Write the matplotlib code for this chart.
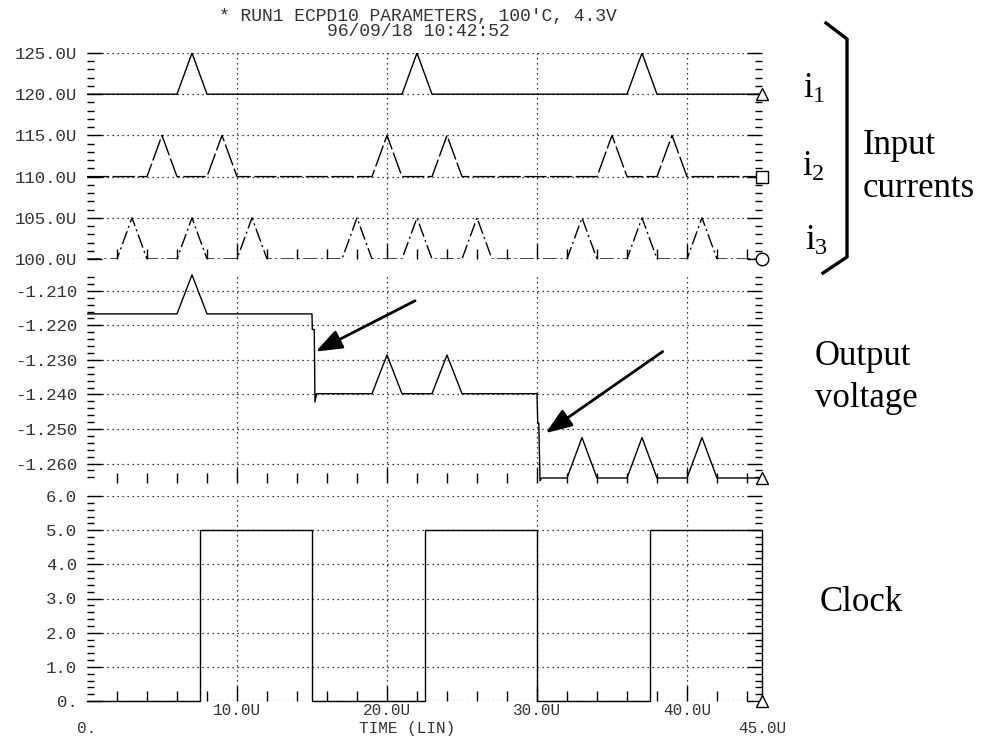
import matplotlib.pyplot as plt
from matplotlib.ticker import MultipleLocator, FixedLocator
from matplotlib.lines import Line2D

# HSPICE transient: three input currents, output voltage, clock (time in us)
t_i1 = [0, 6, 7, 8, 21, 22, 23, 36, 37, 38, 45]
i1 = [120, 120, 125, 120, 120, 125, 120, 120, 125, 120, 120]

t_i2 = [0, 4, 5, 6, 8, 9, 10, 19, 20, 21, 23, 24, 25, 34, 35, 36, 38, 39, 40, 45]
i2 = [110, 110, 115, 110, 110, 115, 110, 110, 115, 110,
      110, 115, 110, 110, 115, 110, 110, 115, 110, 110]

t_i3 = [0, 2, 3, 4, 6, 7, 8, 10, 11, 12, 17, 18, 19, 21, 22, 23, 25, 26, 27,
        32, 33, 34, 36, 37, 38, 40, 41, 42, 45]
i3 = [100, 100, 105, 100, 100, 105, 100, 100, 105, 100, 100, 105, 100, 100, 105,
      100, 100, 105, 100, 100, 105, 100, 100, 105, 100, 100, 105, 100, 100]

t_out = [0, 6, 7, 8, 15.0, 15.02, 15.15, 15.2, 15.3, 19, 20, 21, 23, 24, 25,
         30.0, 30.05, 30.12, 30.2, 30.3, 32, 33, 34, 36, 37, 38, 40, 41, 42, 45]
vout = [-1.2167, -1.2167, -1.2054, -1.2167, -1.2167, -1.2212, -1.2212, -1.2422, -1.2398,
        -1.2398, -1.2286, -1.2398, -1.2398, -1.2286, -1.2398,
        -1.2398, -1.2483, -1.2483, -1.2650, -1.2642, -1.2642, -1.2525, -1.2642,
        -1.2642, -1.2525, -1.2642, -1.2642, -1.2525, -1.2642, -1.2642]

t_clk = [0, 7.5, 7.5, 15, 15, 22.5, 22.5, 30, 30, 37.5, 37.5, 45, 45]
clk = [0, 0, 5, 5, 0, 0, 5, 5, 0, 0, 5, 5, 0]

cur_ticks = [100, 105, 110, 115, 120, 125]
cur_labels = ["100.0U", "105.0U", "110.0U", "115.0U", "120.0U", "125.0U"]
vout_ticks = [-1.26, -1.25, -1.24, -1.23, -1.22, -1.21]
vout_labels = ["-1.260", "-1.250", "-1.240", "-1.230", "-1.220", "-1.210"]
clk_ticks = [0, 1, 2, 3, 4, 5, 6]
clk_labels = ["0.", "1.0", "2.0", "3.0", "4.0", "5.0", "6.0"]
time_ticks = [10, 20, 30, 40]
time_labels = ["10.0U", "20.0U", "30.0U", "40.0U"]

W, H = 984, 738
MONO = "Liberation Mono"
SERIF = "Liberation Serif"
LBL = "#333333"
YSIZE = 12.5
XSIZE = 11.5


def box(top, bottom):
    # pixel rows of the reference -> figure fraction
    return [87 / W, 1 - bottom / H, 675 / W, (bottom - top) / H]


def style(ax, ylim, yticks, ylabels, yminor):
    ax.set_xlim(0, 45)
    ax.set_ylim(*ylim)
    for s in ax.spines.values():
        s.set_visible(False)
    ax.set_yticks(yticks, ylabels)
    ax.yaxis.set_minor_locator(MultipleLocator(yminor))
    ax.set_xticks(time_ticks, [])
    ax.xaxis.set_minor_locator(FixedLocator(range(2, 45, 2)))
    ax.tick_params(axis="y", which="both", direction="in", left=True, right=True,
                   color="k", width=1, pad=7)
    ax.tick_params(axis="y", which="major", length=11)
    ax.tick_params(axis="y", which="minor", length=5)
    ax.tick_params(axis="x", which="both", direction="in", bottom=True, top=False,
                   color="k", width=1, pad=1.5)
    ax.tick_params(axis="x", which="major", length=11)
    ax.tick_params(axis="x", which="minor", length=7)
    ax.grid(True, which="major", ls=(0, (1, 3)), color="k", lw=0.9)
    for lab in ax.get_yticklabels():
        lab.set_fontfamily(MONO)
        lab.set_fontsize(YSIZE)
        lab.set_color(LBL)


fig = plt.figure(figsize=(W / 100, H / 100), dpi=100)
ax1 = fig.add_axes(box(53, 259))
ax2 = fig.add_axes(box(273.5, 482.5))
ax3 = fig.add_axes(box(496, 701))

lw = 1.0
ax1.plot(t_i1, i1, color="k", lw=lw)
ax1.plot(t_i2, i2, color="k", lw=lw, ls=(0, (16, 2.5)))
ax1.plot(t_i3, i3, color="k", lw=lw, ls=(0, (10, 2.5, 1.5, 2.5)))
mk = dict(color="k", mfc="white", mec="k", mew=1, ms=9, clip_on=False, zorder=5)
ax1.plot(t_i1[-1], i1[-1], marker="^", **mk)
ax1.plot(t_i2[-1], i2[-1], marker="s", **mk)
ax1.plot(t_i3[-1], i3[-1], marker="o", **mk)
style(ax1, (100, 125), cur_ticks, cur_labels, 1)

ax2.plot(t_out, vout, color="k", lw=lw)
ax2.plot(t_out[-1], vout[-1], marker="^", **mk)
style(ax2, (-1.2655, -1.2050), vout_ticks, vout_labels, 0.002)
arrow = dict(arrowstyle="-|>,head_length=0.8,head_width=0.3", color="k", lw=2,
             mutation_scale=20, shrinkA=0, shrinkB=0)
ax2.annotate("", xy=(15.25, -1.2276), xytext=(21.87, -1.2129),
             arrowprops=arrow, annotation_clip=False)
ax2.annotate("", xy=(30.58, -1.2512), xytext=(38.38, -1.2276),
             arrowprops=arrow, annotation_clip=False)

ax3.plot(t_clk, clk, color="k", lw=lw, clip_on=False)
ax3.plot(t_clk[-1], clk[-1], marker="^", **mk)
style(ax3, (0, 6), clk_ticks, clk_labels, 0.2)
ax3.set_xticks(time_ticks, time_labels, fontfamily=MONO, fontsize=XSIZE, color=LBL)
sec = ax3.secondary_xaxis("bottom")
sec.set_xticks([0, 45], ["0.", "45.0U"], fontfamily=MONO, fontsize=XSIZE, color=LBL)
sec.tick_params(length=0, pad=14.5)
sec.spines["bottom"].set_visible(False)
ax3.set_xlabel("TIME (LIN)", fontfamily=MONO, fontsize=XSIZE, color=LBL, va="top")
ax3.xaxis.set_label_coords(0.474, -0.098)

fig.text(418 / W, 1 - 24 / H, "* RUN1 ECPD10 PARAMETERS, 100'C, 4.3V\n96/09/18 10:42:52",
         ha="center", va="center", fontfamily=MONO, fontsize=13, color=LBL,
         linespacing=0.8)

# hand-drawn annotations on the right
fig.add_artist(Line2D([826 / W, 847 / W, 847 / W, 823 / W],
                      [1 - 23 / H, 1 - 39 / H, 1 - 257 / H, 1 - 273 / H],
                      color="k", lw=2.4, solid_joinstyle="miter"))
txt = dict(fontfamily=SERIF, fontsize=25, color="k", ha="left", va="baseline")
fig.text(803 / W, 1 - 98 / H, r"$\mathregular{i_1}$", **txt)
fig.text(802 / W, 1 - 176 / H, r"$\mathregular{i_2}$", **txt)
fig.text(805 / W, 1 - 250 / H, r"$\mathregular{i_3}$", **txt)
fig.text(863 / W, 1 - 154 / H, "Input", **txt)
fig.text(863 / W, 1 - 197 / H, "currents", **txt)
fig.text(815 / W, 1 - 365 / H, "Output", **txt)
fig.text(815 / W, 1 - 407 / H, "voltage", **txt)
fig.text(820 / W, 1 - 611 / H, "Clock", **txt)

fig.savefig("out.png", dpi=100)
